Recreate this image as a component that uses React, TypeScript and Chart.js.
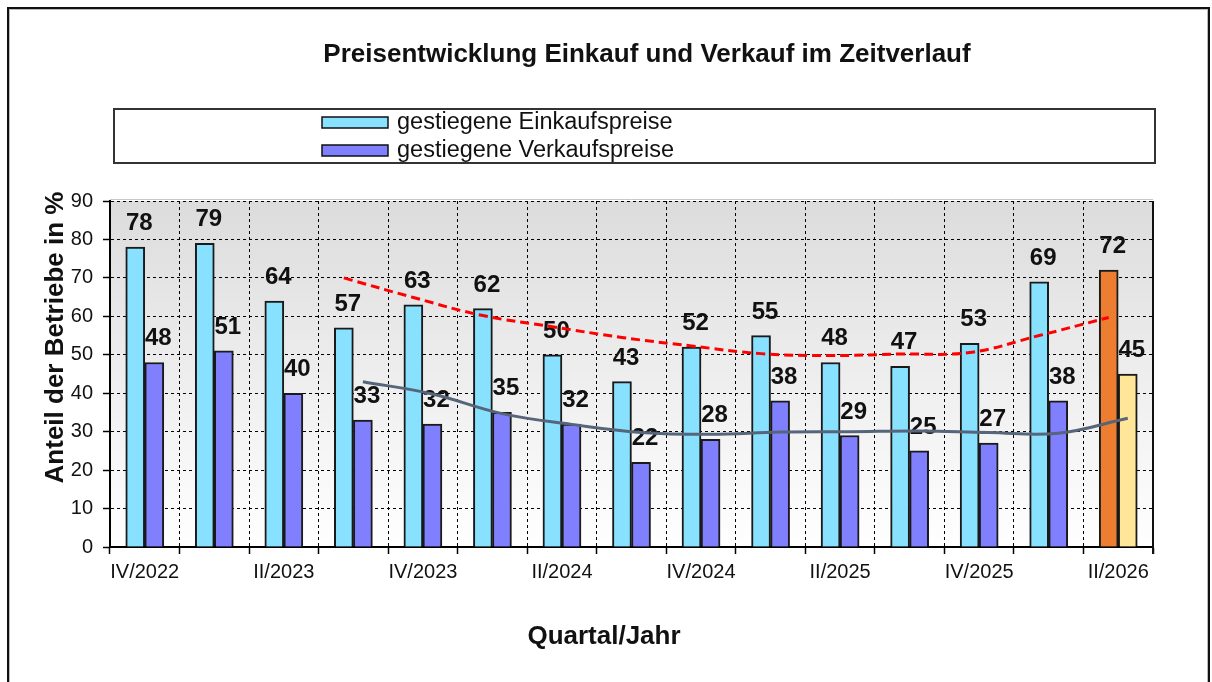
import React, { useEffect, useRef } from 'react';
import { Chart, registerables } from 'chart.js';

Chart.register(...registerables);

const chartTitle = 'Preisentwicklung Einkauf und Verkauf im Zeitverlauf';
const xAxisTitle = 'Quartal/Jahr';
const yAxisTitle = 'Anteil der Betriebe in %';
const seriesNames = ['gestiegene Einkaufspreise', 'gestiegene Verkaufspreise'];

const categories = [
  'IV/2022', 'I/2023', 'II/2023', 'III/2023', 'IV/2023', 'I/2024', 'II/2024', 'III/2024',
  'IV/2024', 'I/2025', 'II/2025', 'III/2025', 'IV/2025', 'I/2026', 'II/2026',
];
const einkauf = [78, 79, 64, 57, 63, 62, 50, 43, 52, 55, 48, 47, 53, 69, 72];
const verkauf = [48, 51, 40, 33, 32, 35, 32, 22, 28, 38, 29, 25, 27, 38, 45];

// trend lines, starting at category index 3 (III/2023)
const trendStart = 3;
const einkaufTrend = [70, 64.9, 60.2, 57.3, 54.5, 52.3, 50.3, 49.8, 50.2, 50.6, 55, 59.7];
const verkaufTrend = [43, 39.8, 34.7, 31.9, 29.8, 29.3, 29.9, 30.0, 30.2, 29.8, 29.6, 33.5];

const yMin = 0;
const yMax = 90;
const yStep = 10;

const FONT = 'Arial, "Liberation Sans", sans-serif';
const COL_EK = '#88E1FF';
const COL_VK = '#8080FF';
const COL_EK_LAST = '#ED7D31';
const COL_VK_LAST = '#FFE699';

export default function App() {
  const ref = useRef<HTMLCanvasElement>(null);

  useEffect(() => {
    const canvas = ref.current;
    if (!canvas) return;
    const n = categories.length;
    const barShift = 0.137; // half a bar, in category units

    const decor = {
      id: 'decor',
      beforeDraw(chart: any) {
        const { ctx, chartArea: a, width, height } = chart;
        ctx.save();
        ctx.fillStyle = '#ffffff';
        ctx.fillRect(0, 0, width, height);
        // outer frame
        ctx.strokeStyle = '#111';
        ctx.lineWidth = 2;
        ctx.strokeRect(8, 8, 1201, 720);
        ctx.strokeStyle = '#bbb';
        ctx.lineWidth = 1;
        ctx.strokeRect(9.5, 9.5, 1198, 720);
        // plot background gradient
        const g = ctx.createLinearGradient(0, a.top, 0, a.bottom);
        g.addColorStop(0, '#DCDCDC');
        g.addColorStop(1, '#FFFFFF');
        ctx.fillStyle = g;
        ctx.fillRect(a.left, a.top, a.right - a.left, a.bottom - a.top);
        ctx.restore();
      },
      afterDatasetDraw(chart: any, args: any) {
        const ds = chart.data.datasets[args.index];
        if (ds.type !== 'bar') return;
        const { ctx } = chart;
        const meta = args.meta;
        ctx.save();
        ctx.font = `bold 24px ${FONT}`;
        ctx.fillStyle = '#111';
        ctx.textAlign = 'center';
        ctx.textBaseline = 'alphabetic';
        meta.data.forEach((el: any, i: number) => {
          ctx.fillText(String(ds.data[i].y), el.x + 4, el.y - 17);
        });
        ctx.restore();
      },
      afterDraw(chart: any) {
        const { ctx, chartArea: a } = chart;
        ctx.save();
        // plot area right/top border
        ctx.strokeStyle = '#111';
        ctx.lineWidth = 2;
        ctx.beginPath();
        ctx.moveTo(a.right, a.top);
        ctx.lineTo(a.right, a.bottom + 7);
        ctx.stroke();
        ctx.strokeStyle = '#c8c8c8';
        ctx.lineWidth = 1;
        ctx.beginPath();
        ctx.moveTo(a.left, a.top - 1.5);
        ctx.lineTo(a.right, a.top - 1.5);
        ctx.stroke();

        // title
        ctx.fillStyle = '#111';
        ctx.textAlign = 'center';
        ctx.textBaseline = 'alphabetic';
        ctx.font = `bold 26px ${FONT}`;
        ctx.fillText(chartTitle, 647, 62);

        // x axis title
        ctx.fillText(xAxisTitle, 604, 644);

        // y axis title
        ctx.save();
        ctx.translate(63, 337.5);
        ctx.rotate(-Math.PI / 2);
        ctx.fillText(yAxisTitle, 0, 0);
        ctx.restore();

        // legend box
        ctx.strokeStyle = '#333';
        ctx.lineWidth = 2;
        ctx.strokeRect(114, 109, 1041, 54);
        const items = [
          { text: seriesNames[0], color: COL_EK, y: 122 },
          { text: seriesNames[1], color: COL_VK, y: 150 },
        ];
        ctx.font = `23.5px ${FONT}`;
        ctx.textAlign = 'left';
        ctx.textBaseline = 'middle';
        items.forEach((it) => {
          ctx.fillStyle = it.color;
          ctx.fillRect(322, it.y - 5, 66, 11);
          ctx.strokeStyle = '#111';
          ctx.lineWidth = 1.5;
          ctx.strokeRect(322, it.y - 5, 66, 11);
          ctx.fillStyle = '#111';
          ctx.fillText(it.text, 397, it.y + 1);
        });
        ctx.restore();
      },
    };

    const chart = new Chart(canvas, {
      type: 'bar',
      data: {
        labels: categories,
        datasets: [
          {
            type: 'bar',
            label: seriesNames[0],
            data: einkauf.map((v, i) => ({ x: i - barShift, y: v })),
            backgroundColor: einkauf.map((_, i) => (i === n - 1 ? COL_EK_LAST : COL_EK)),
            borderColor: '#1a1a1a',
            borderWidth: 2,
            grouped: false,
            barThickness: 19,
            xAxisID: 'x2',
            yAxisID: 'y',
            order: 2,
          },
          {
            type: 'bar',
            label: seriesNames[1],
            data: verkauf.map((v, i) => ({ x: i + barShift, y: v })),
            backgroundColor: verkauf.map((_, i) => (i === n - 1 ? COL_VK_LAST : COL_VK)),
            borderColor: '#1a1a1a',
            borderWidth: 2,
            grouped: false,
            barThickness: 19,
            xAxisID: 'x2',
            yAxisID: 'y',
            order: 2,
          },
          {
            type: 'line',
            label: 'Trend Einkauf',
            data: einkaufTrend.map((v, k) => ({ x: trendStart + k - barShift, y: v })),
            borderColor: '#FF0000',
            borderWidth: 3,
            borderDash: [9, 5],
            pointRadius: 0,
            tension: 0.4,
            fill: false,
            xAxisID: 'x2',
            yAxisID: 'y',
            order: 0,
          },
          {
            type: 'line',
            label: 'Trend Verkauf',
            data: verkaufTrend.map((v, k) => ({ x: trendStart + k + barShift, y: v })),
            borderColor: '#56657A',
            borderWidth: 3,
            pointRadius: 0,
            tension: 0.4,
            fill: false,
            xAxisID: 'x2',
            yAxisID: 'y',
            order: 0,
          },
        ] as any,
      },
      options: {
        responsive: false,
        animation: false,
        layout: { padding: { top: 201, right: 59, bottom: 0, left: 0 } },
        plugins: {
          legend: { display: false },
          title: { display: false },
          tooltip: { enabled: false },
        },
        scales: {
          x: {
            type: 'category',
            min: categories[0],
            max: categories[n - 1],
            offset: true,
            grid: {
              offset: true,
              color: '#000',
              lineWidth: 1,
              tickLength: 7,
              tickColor: '#000',
              tickWidth: 1.5,
            },
            border: { display: true, color: '#000', width: 2, dash: [3, 3] },
            ticks: {
              autoSkip: false,
              maxRotation: 0,
              minRotation: 0,
              padding: 6,
              color: '#111',
              font: { family: FONT, size: 20 },
              callback: (_v: any, i: number) => (i % 2 === 0 ? categories[i] : ''),
            },
            afterFit: (s: any) => {
              s.height = 135;
            },
          },
          x2: {
            type: 'linear',
            display: false,
            min: -0.5,
            max: n - 0.5,
            offset: false,
          },
          y: {
            min: yMin,
            max: yMax,
            grid: {
              color: '#000',
              lineWidth: 1,
              tickLength: 7,
              tickColor: '#000',
              tickWidth: 1.5,
            },
            border: { display: true, color: '#000', width: 2, dash: [3, 3] },
            ticks: {
              stepSize: yStep,
              padding: 10,
              color: '#111',
              font: { family: FONT, size: 20 },
            },
            afterFit: (s: any) => {
              s.width = 110;
            },
          },
        },
      } as any,
      plugins: [decor],
    });

    return () => chart.destroy();
  }, []);

  return (
    <div style={{ position: 'fixed', left: 0, top: 0, width: 1212, height: 682, background: '#fff' }}>
      <canvas ref={ref} width={1212} height={682} style={{ display: 'block', width: 1212, height: 682 }} />
    </div>
  );
}
